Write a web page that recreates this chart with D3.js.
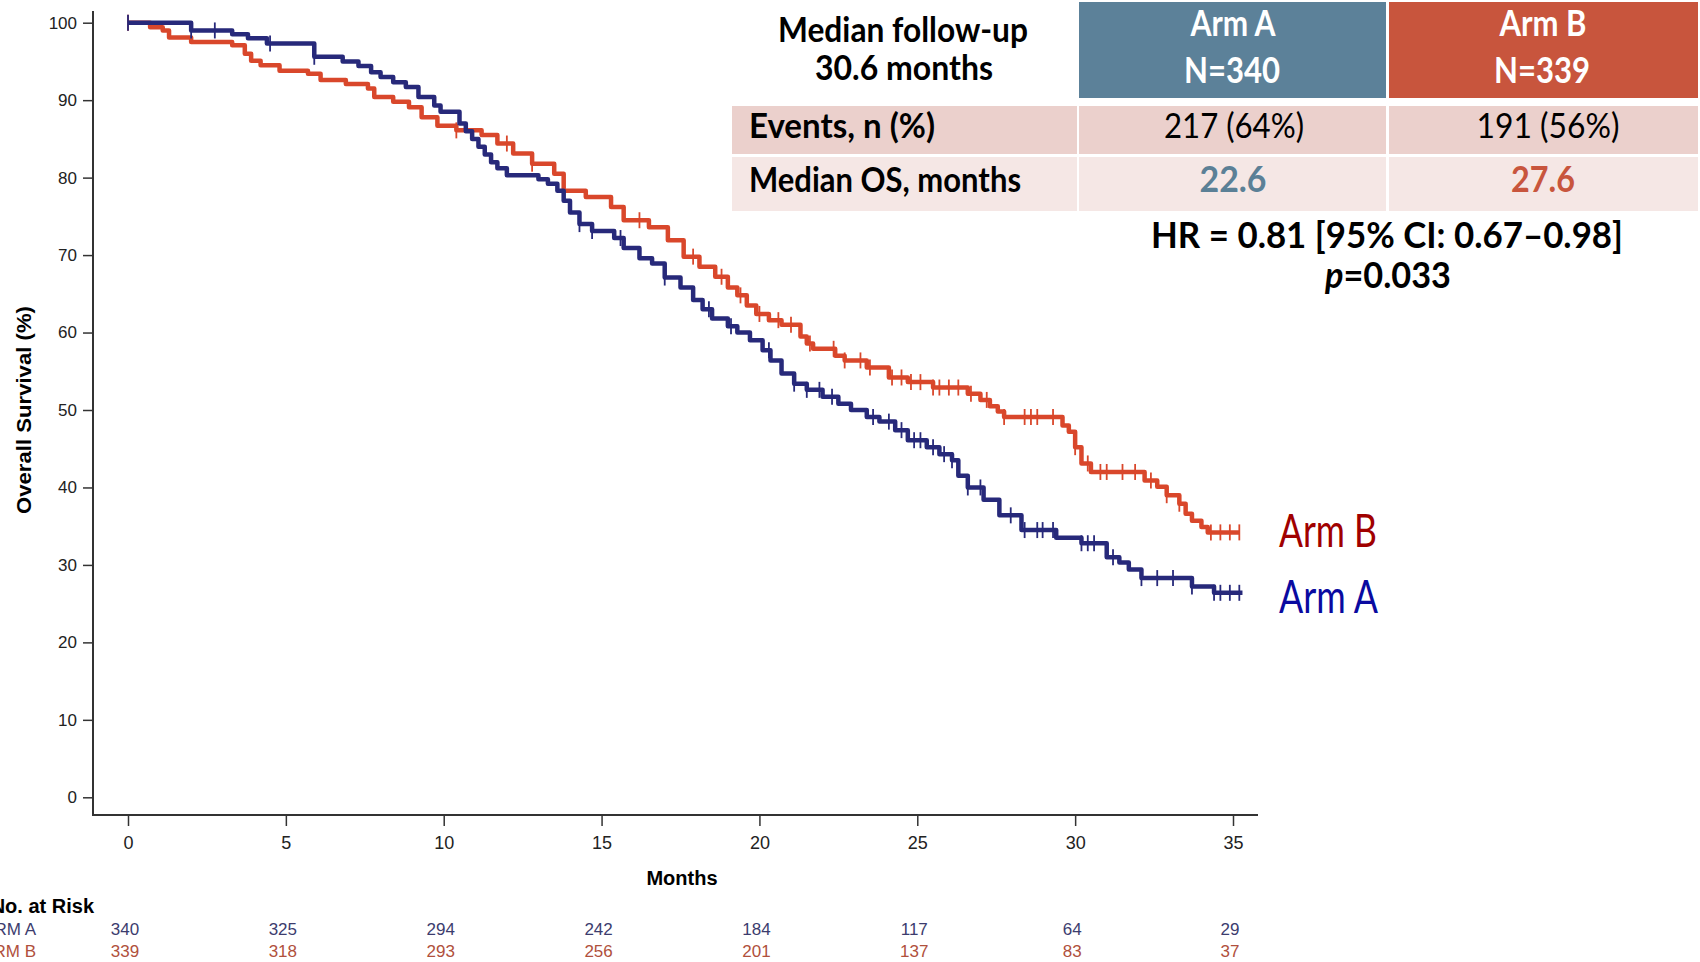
<!DOCTYPE html>
<html>
<head>
<meta charset="utf-8">
<script src="https://cdn.jsdelivr.net/npm/d3@7"></script>
<style>
  body { margin: 0; background: #fff; }
  svg { display: block; }
</style>
</head>
<body>
<div id="km"></div>
<script>
// ---- data ----
var months = [0, 5, 10, 15, 20, 25, 30, 35];
var yTicks = [0, 10, 20, 30, 40, 50, 60, 70, 80, 90, 100];

// Arm A (blue) step curve: event times and survival after each step
var armA_time = [0, 2.0, 3.3, 3.8, 4.4, 5.9, 6.8, 7.3, 7.7, 8.0, 8.4, 8.8, 9.2, 9.7, 9.9, 10.5, 10.7, 10.9, 11.1, 11.3, 11.5, 11.7, 12.0,
  13.0, 13.3, 13.6, 13.8, 14.0, 14.3, 14.7, 15.4, 15.7, 16.2, 16.6, 17.0, 17.5, 17.9, 18.2, 18.5, 19.0, 19.3, 19.7, 20.1, 20.35, 20.7,
  21.1, 21.5, 22.0, 22.5, 22.9, 23.4, 23.8, 24.3, 24.7, 25.3, 25.7, 26.1, 26.3, 26.6, 27.1, 27.6, 28.3, 29.4, 30.2, 31.0, 31.4, 31.7,
  32.1, 33.7, 34.4];
var armA_surv = [100, 99.0, 98.5, 98.0, 97.3, 95.6, 95.0, 94.4, 93.6, 93.0, 92.3, 91.7, 90.4, 89.3, 88.5, 87.0, 86.0, 85.0, 84.0, 83.0, 82.0, 81.2, 80.3,
  79.8, 79.2, 78.3, 77.0, 75.5, 74.0, 73.1, 72.2, 70.9, 69.6, 68.9, 67.1, 65.8, 64.2, 63.0, 61.8, 60.8, 60.0, 59.0, 57.7, 56.4, 54.7,
  53.4, 52.6, 51.7, 50.8, 50.0, 49.1, 48.5, 47.4, 46.1, 45.2, 44.3, 43.5, 41.5, 40.0, 38.4, 36.4, 34.5, 33.5, 32.8, 31.0, 30.3, 29.4,
  28.3, 27.2, 26.4];
var armA_end = 35.3;
var armA_cens = [0, 2.0, 2.75, 4.5, 5.9, 14.3, 14.7, 15.6, 17.0, 18.4, 19.1, 20.3, 21.1, 21.5, 21.9, 22.3, 23.6, 24.1, 24.5, 24.9, 25.1,
  25.5, 25.85, 26.1, 26.6, 27.0, 27.96, 28.4, 28.8, 28.97, 29.3, 30.2, 30.4, 30.6, 31.2, 32.1, 32.6, 33.1, 33.7, 34.4, 34.6, 34.9, 35.2];

// Arm B (red)
var armB_time = [0, 0.7, 1.1, 1.3, 2.0, 3.3, 3.7, 3.9, 4.2, 4.8, 5.7, 6.1, 6.9, 7.6, 7.8, 8.4, 8.9, 9.3, 9.8, 10.4, 11.2, 11.7, 12.2,
  12.8, 13.5, 13.8, 14.5, 15.3, 15.7, 16.5, 17.1, 17.6, 18.1, 18.6, 19.0, 19.3, 19.6, 19.9, 20.3, 20.7, 21.3, 21.5, 21.7, 22.4, 22.7,
  23.4, 24.1, 24.7, 25.5, 26.6, 27.0, 27.3, 27.55, 27.75, 29.6, 29.8, 30.0, 30.2, 30.5, 32.2, 32.6, 32.9, 33.3, 33.5, 33.7, 34.0, 34.2];
var armB_surv = [100, 99.4, 99.0, 98.1, 97.5, 97.1, 96.0, 95.1, 94.5, 93.8, 93.4, 92.6, 92.1, 91.5, 90.4, 89.8, 89.1, 87.8, 86.7, 86.1, 85.5, 84.4, 83.1,
  81.8, 80.5, 78.3, 77.5, 76.2, 74.5, 73.6, 71.9, 69.8, 68.5, 67.2, 65.8, 64.8, 63.5, 62.4, 61.6, 61.0, 59.5, 58.6, 57.9, 57.0, 56.4,
  55.5, 54.2, 53.6, 52.9, 52.1, 51.3, 50.5, 49.8, 49.1, 48.0, 47.2, 45.2, 43.1, 42.0, 40.9, 40.1, 39.0, 37.9, 36.6, 35.7, 34.9, 34.2];
var armB_end = 35.2;
var armB_cens = [0, 10.4, 12.0, 12.8, 16.2, 17.9, 18.8, 19.4, 20.0, 20.6, 21.0, 21.6, 22.35, 22.7, 23.2, 23.5, 24.2, 24.5, 24.8, 25.1,
  25.5, 25.7, 26.0, 26.3, 26.7, 27.2, 27.75, 28.4, 28.6, 28.8, 29.3, 30.0, 30.4, 30.8, 31.0, 31.5, 31.9, 32.4, 32.9, 33.3, 34.3, 34.6, 34.9, 35.2];

var riskA = [340, 325, 294, 242, 184, 117, 64, 29];
var riskB = [339, 318, 293, 256, 201, 137, 83, 37];

var colA = "#27297a", colB = "#d9472b";

// ---- svg ----
var W = 1700, H = 962;
var svg = d3.select("#km").append("svg").attr("width", W).attr("height", H);

var x = d3.scaleLinear().domain([0, 35]).range([128, 1233]);
var y = d3.scaleLinear().domain([0, 100]).range([797.3, 22.7]);

var axisCol = "#333";
var tickFont = "'Liberation Sans', Arial, sans-serif";

// axis lines
svg.append("line").attr("x1", 93).attr("x2", 93).attr("y1", 11).attr("y2", 816)
  .attr("stroke", axisCol).attr("stroke-width", 2);
svg.append("line").attr("x1", 92).attr("x2", 1258).attr("y1", 815).attr("y2", 815)
  .attr("stroke", axisCol).attr("stroke-width", 2);

// y axis
var yAxis = svg.append("g").attr("transform", "translate(93,0)")
  .call(d3.axisLeft(y).tickValues(yTicks).tickSize(10).tickPadding(6));
yAxis.select(".domain").remove();
yAxis.selectAll("line").attr("stroke", axisCol).attr("stroke-width", 1.5);
yAxis.selectAll("text").style("font-family", tickFont).style("font-size", "17px").attr("fill", "#222");

// x axis
var xAxis = svg.append("g").attr("transform", "translate(0,815)")
  .call(d3.axisBottom(x).tickValues(months).tickSize(11).tickPadding(10));
xAxis.select(".domain").remove();
xAxis.selectAll("line").attr("stroke", axisCol).attr("stroke-width", 1.5);
xAxis.selectAll("text").style("font-family", tickFont).style("font-size", "18px").attr("fill", "#222");

// axis titles
svg.append("text").attr("x", 682).attr("y", 885).attr("text-anchor", "middle")
  .style("font-family", tickFont).style("font-size", "20px").style("font-weight", "bold")
  .text("Months");
svg.append("text").attr("transform", "translate(31,410) rotate(-90)").attr("text-anchor", "middle")
  .style("font-family", tickFont).style("font-size", "20px").style("font-weight", "bold")
  .attr("textLength", 208).attr("lengthAdjust", "spacingAndGlyphs")
  .text("Overall Survival (%)");

// ---- KM curves ----
function steps(times, surv, end) {
  var pts = times.map(function (t, i) { return [t, surv[i]]; });
  pts.push([end, surv[surv.length - 1]]);
  return pts;
}
function survAt(times, surv, t) {
  var v = surv[0];
  for (var i = 0; i < times.length; i++) { if (times[i] <= t) v = surv[i]; }
  return v;
}
var line = d3.line().x(function (d) { return x(d[0]); }).y(function (d) { return y(d[1]); })
  .curve(d3.curveStepAfter);

var arms = [
  { t: armB_time, s: armB_surv, end: armB_end, cens: armB_cens, col: colB },
  { t: armA_time, s: armA_surv, end: armA_end, cens: armA_cens, col: colA }
];
arms.forEach(function (a) {
  svg.append("path").datum(steps(a.t, a.s, a.end))
    .attr("d", line).attr("fill", "none")
    .attr("stroke", a.col).attr("stroke-width", 4.5).attr("stroke-linejoin", "round");
  svg.selectAll(null).data(a.cens).enter().append("line")
    .attr("x1", function (d) { return x(d); }).attr("x2", function (d) { return x(d); })
    .attr("y1", function (d) { return y(survAt(a.t, a.s, d)) - 8; })
    .attr("y2", function (d) { return y(survAt(a.t, a.s, d)) + 8; })
    .attr("stroke", a.col).attr("stroke-width", 1.8);
});

// arm labels
var labFont = "Lato, 'Open Sans', sans-serif";
svg.append("text").attr("x", 1279).attr("y", 547).attr("fill", "#a00000")
  .style("font-family", labFont).style("font-size", "46px")
  .attr("textLength", 98).attr("lengthAdjust", "spacingAndGlyphs").text("Arm B");
svg.append("text").attr("x", 1279).attr("y", 613).attr("fill", "#0a0aa0")
  .style("font-family", labFont).style("font-size", "46px")
  .attr("textLength", 99).attr("lengthAdjust", "spacingAndGlyphs").text("Arm A");

// ---- number at risk ----
svg.append("text").attr("x", 94).attr("y", 913).attr("text-anchor", "end")
  .style("font-family", tickFont).style("font-size", "20px").style("font-weight", "bold")
  .text("No. at Risk");
svg.append("text").attr("x", 36).attr("y", 935).attr("text-anchor", "end").attr("fill", "#3c3c6e")
  .style("font-family", tickFont).style("font-size", "17px").text("ARM A");
svg.append("text").attr("x", 36).attr("y", 957).attr("text-anchor", "end").attr("fill", "#b0503c")
  .style("font-family", tickFont).style("font-size", "17px").text("ARM B");
svg.selectAll(null).data(riskA).enter().append("text")
  .attr("x", function (d, i) { return x(months[i]) - 3; }).attr("y", 935)
  .attr("text-anchor", "middle").attr("fill", "#3c3c6e")
  .style("font-family", tickFont).style("font-size", "17px").text(function (d) { return d; });
svg.selectAll(null).data(riskB).enter().append("text")
  .attr("x", function (d, i) { return x(months[i]) - 3; }).attr("y", 957)
  .attr("text-anchor", "middle").attr("fill", "#b0503c")
  .style("font-family", tickFont).style("font-size", "17px").text(function (d) { return d; });

// ---- summary table ----
var tblFont = "Lato, 'Open Sans', sans-serif";
var colX = [732, 1079, 1389];
var colW = [345, 307, 309];
var headA = "#5c8199", headB = "#c8553d";

function cellRect(cx, cy, w, h, fill) {
  svg.append("rect").attr("x", cx).attr("y", cy).attr("width", w).attr("height", h).attr("fill", fill);
}
function txt(t, cx, cy, size, len, opt) {
  opt = opt || {};
  var el = svg.append("text").attr("x", cx).attr("y", cy)
    .attr("text-anchor", opt.anchor || "middle")
    .attr("fill", opt.fill || "#000")
    .style("font-family", tblFont).style("font-size", size + "px")
    .style("font-weight", opt.weight || "bold")
    .attr("textLength", len).attr("lengthAdjust", "spacingAndGlyphs");
  el.text(t);
  return el;
}

cellRect(colX[1], 2, colW[1], 96, headA);
cellRect(colX[2], 2, colW[2], 96, headB);
[0, 1, 2].forEach(function (i) {
  cellRect(colX[i], 106, colW[i], 48, "#ebd0cc");
  cellRect(colX[i], 157, colW[i], 54, "#f5e7e5");
});

txt("Median follow-up", 903, 42, 34, 250);
txt("30.6 months", 904, 80, 34, 178);
txt("Arm A", 1233, 36, 36, 85, { fill: "#fff" });
txt("N=340", 1232, 83, 36, 96, { fill: "#fff" });
txt("Arm B", 1543, 36, 36, 87, { fill: "#fff" });
txt("N=339", 1542, 83, 36, 96, { fill: "#fff" });

txt("Events, n (%)", 749, 138, 34, 186, { anchor: "start" });
txt("217 (64%)", 1234, 138, 34, 140, { weight: "normal" });
txt("191 (56%)", 1548, 138, 34, 143, { weight: "normal" });

txt("Median OS, months", 749, 192, 34, 272, { anchor: "start" });
txt("22.6", 1233, 192, 36, 67, { fill: "#5b8096" });
txt("27.6", 1543, 192, 36, 64, { fill: "#c8553d" });

txt("HR = 0.81 [95% CI: 0.67\u20130.98]", 1387, 248, 36, 472);
var pv = txt("", 1388, 288, 36, 126);
pv.append("tspan").style("font-style", "italic").text("p");
pv.append("tspan").text("=0.033");
</script>
</body>
</html>
